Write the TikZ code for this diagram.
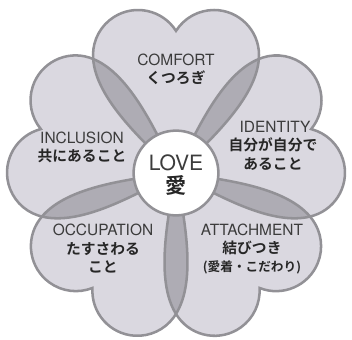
\documentclass[tikz,border=0pt]{standalone}
\usepackage{fontspec}
\newfontfamily\latfont{TeX Gyre Heros}
\newfontfamily\jpfont{Noto Sans CJK JP}[BoldFont={Noto Sans CJK JP Bold}]
\definecolor{petalfill}{HTML}{DAD8E0}
\definecolor{lensfill}{HTML}{AEACB4}
\definecolor{petalline}{HTML}{929196}
\definecolor{lattext}{HTML}{3C3C3C}
\definecolor{jptext}{HTML}{262626}
\newcommand{\petalpath}{(0,0) .. controls (3.7,3.5) and (8.3,7.8) .. (8.3,11.8)
  arc[start angle=0,end angle=147.6,radius=4.5]
  arc[start angle=32.4,end angle=180,radius=4.5]
  .. controls (-8.3,7.8) and (-3.7,3.5) .. (0,0) -- cycle}

\begin{document}
\begin{tikzpicture}[x=0.25cm, y=0.25cm,
    petal/.style={draw=petalline, line width=1.8pt},
    lat/.style={text=lattext, font={\latfont\fontsize{11}{13}\selectfont}},
    jp/.style={text=jptext, align=center, font={\jpfont\bfseries\fontsize{10.5}{13}\selectfont}}]
      \useasboundingbox (-17.6,-16.6) rectangle (17.6,17.3);
      \foreach \a in {0,-72,-144,-216,-288}
        \fill[petalfill, rotate=\a] \petalpath;
      \foreach \a in {0,-72,-144,-216,-288} {
        \begin{scope}
          \clip[rotate=\a] \petalpath;
          \fill[lensfill, rotate=\a-72] \petalpath;
        \end{scope}
      }
      \foreach \a in {0,-72,-144,-216,-288}
        \draw[petal, rotate=\a] \petalpath;
      \node (love) [circle, petal, fill=white, minimum size=2.12cm] at (0,0) {};
      \node (lovelat) [text=lattext, font={\latfont\fontsize{15}{18}\selectfont}] at (0,1.0) {LOVE};
      \node (lovejp) [text=jptext, font={\jpfont\bfseries\fontsize{15}{18}\selectfont}] at (0,-1.2) {愛};
      \node (comfort) [lat] at (0,11.3) {COMFORT};
      \node (comfortjp) [jp] at (0,9.5) {くつろぎ};
      \node (identity) [lat] at (9.9,4.6) {IDENTITY};
      \node (identityjp) [jp] at (9.7,1.9) {自分が自分で\\あること};
      \node (inclusion) [lat] at (-9.4,3.5) {INCLUSION};
      \node (inclusionjp) [jp] at (-9.4,1.7) {共にあること};
      \node (occupation) [lat] at (-7.3,-5.7) {OCCUPATION};
      \node (occupationjp) [jp] at (-7.3,-8.45) {たすさわる\\こと};
      \node (attachment) [lat] at (7.6,-5.7) {ATTACHMENT};
      \node (attachmentjp) [jp] at (7.6,-7.5) {結びつき};
      \node (attachmentsub) [text=jptext, font={\jpfont\bfseries\fontsize{9}{11}\selectfont}] at (7.6,-9.4) {(愛着・こだわり)};
    \end{tikzpicture}
\end{document}
